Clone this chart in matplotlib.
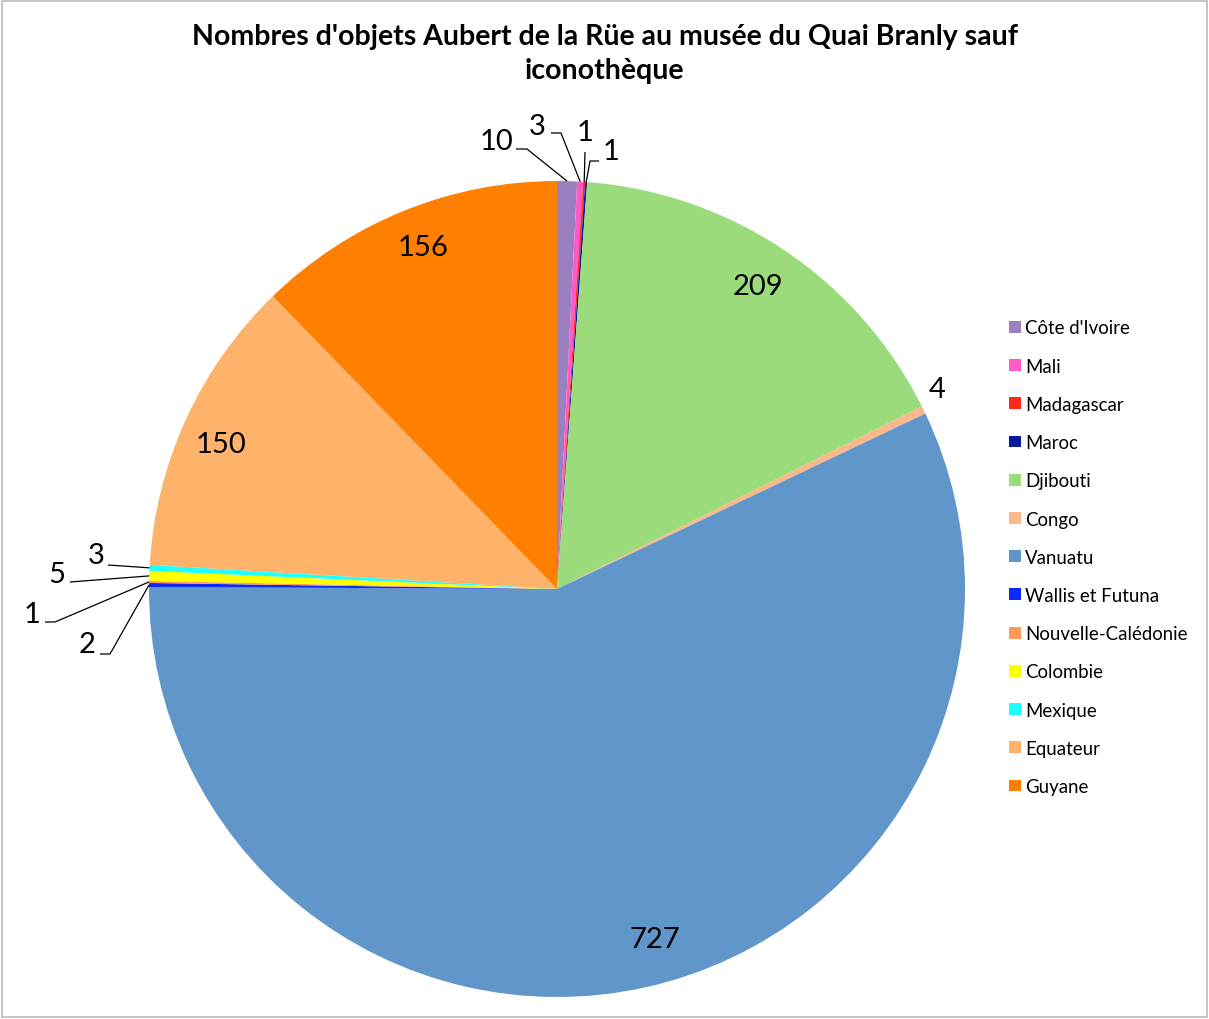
import matplotlib
matplotlib.use("Agg")
import matplotlib.pyplot as plt
import numpy as np
from matplotlib.patches import Rectangle

countries = ["Côte d'Ivoire", "Mali", "Madagascar", "Maroc", "Djibouti", "Congo",
             "Vanuatu", "Wallis et Futuna", "Nouvelle-Calédonie", "Colombie",
             "Mexique", "Equateur", "Guyane"]
counts = [10, 3, 1, 1, 209, 4, 727, 2, 1, 5, 3, 150, 156]
colors = ["#9A80BE", "#FF5BC8", "#FF2A1A", "#0A1A9E", "#9BDB7C", "#F9B98C",
          "#6096C9", "#0A2AFF", "#FF9A5A", "#FFFF00", "#1FFFFF", "#FFB26A",
          "#FF7F00"]
title = "Nombres d'objets Aubert de la Rüe au musée du Quai Branly sauf\niconothèque"

plt.rcParams["font.family"] = ["Lato", "DejaVu Sans"]

W, H = 1209, 1020
cx, cy, R = 557, 590, 408
fig = plt.figure(figsize=(W / 100, H / 100), dpi=100)
ax = fig.add_axes([(cx - R) / W, (H - cy - R) / H, 2 * R / W, 2 * R / H])

wedges, _ = ax.pie(counts, colors=colors, startangle=90, counterclock=False,
                   radius=1, wedgeprops=dict(linewidth=0))
# pie sets its own limits, put ours back after it
ax.set_xlim(-1, 1)
ax.set_ylim(-1, 1)
ax.set_aspect("equal")
ax.axis("off")

def px(x, y):
    # pixel position in the picture -> data coords of the pie axes
    return (x - cx) / R, (cy - y) / R

# labels inside the big slices (pixel spots as Excel put them)
inside = {4: (758, 287), 6: (655, 940), 11: (221, 445), 12: (423, 248)}
for i, lab in inside.items():
    ax.text(*px(*lab), str(counts[i]), fontsize=21, ha="center", va="center")

# small slices: label position and leader path (pixels), anchor on the rim
small = {
    0: ((496, 142), [(516, 150), (527, 150)]),
    1: ((537, 127), [(551, 134), (561, 134)]),
    2: ((585, 133), [(585, 153)]),
    3: ((611, 152), [(599, 162), (590, 162)]),
    5: ((937, 390), None),
    7: ((87, 645), [(100, 655), (110, 655)]),
    8: ((32, 615), [(45, 623), (55, 623)]),
    9: ((57, 575), [(70, 583)]),
    10: ((96, 556), [(108, 566)]),
}
for i, (lab, path) in small.items():
    w = wedges[i]
    mid = np.deg2rad((w.theta1 + w.theta2) / 2)
    ax.text(*px(*lab), str(counts[i]), fontsize=21, ha="center", va="center")
    if path:
        pts = [px(*p) for p in path] + [(np.cos(mid), np.sin(mid))]
        xs, ys = zip(*pts)
        ax.plot(xs, ys, color="black", lw=0.9, solid_capstyle="butt", clip_on=False)

fig.text(0.5, 1 - 54 / H, title, ha="center", va="center", fontsize=20.5,
         fontweight="bold", linespacing=1.35)

fig.legend(wedges, countries, loc="upper left",
           bbox_to_anchor=(1002 / W, 1 - 313 / H), frameon=False,
           fontsize=13.4, handlelength=0.6, handleheight=0.6, handletextpad=0.25,
           labelspacing=1.14, borderaxespad=0)

fig.patches.append(Rectangle((0.002, 0.002), 0.996, 0.996, transform=fig.transFigure,
                             fill=False, edgecolor="#BBBBBB", lw=1.2))

fig.savefig("out.png", dpi=100, facecolor="white")
